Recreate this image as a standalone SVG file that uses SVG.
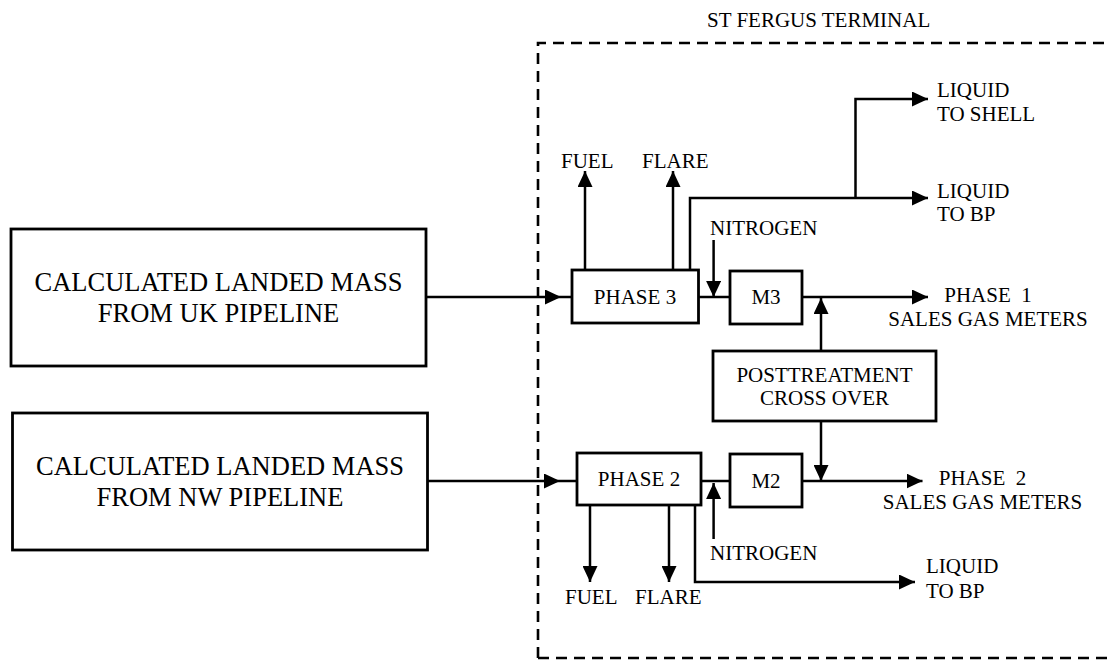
<svg xmlns="http://www.w3.org/2000/svg" width="1108" height="660" viewBox="0 0 1108 660">
<defs>
<style>
.box{fill:#fff;stroke:#000;stroke-width:2.8}
.ln{fill:none;stroke:#000;stroke-width:2.5}
.arr{marker-end:url(#ah)}
.dash{fill:none;stroke:#000;stroke-width:2.6;stroke-dasharray:11 7}
.t{font-family:"Liberation Serif","Times New Roman",serif;fill:#000}
.big{font-size:26.5px;text-anchor:middle}
.lbl{font-size:21px}
.mid{text-anchor:middle}
</style>
<marker id="ah" markerUnits="userSpaceOnUse" markerWidth="16" markerHeight="15" refX="16" refY="7.5" orient="auto">
<path d="M0,0 L16,7.5 L0,15 z" fill="#000"/>
</marker>
</defs>
<rect width="1108" height="660" fill="#fff"/>

<g id="terminal" class="t">
<path class="dash" d="M538,658 V43 H1108"/>
<path class="dash" d="M538,658 H1108"/>
<text class="lbl" x="707" y="27">ST FERGUS TERMINAL</text>
</g>

<g id="connectors">
<path class="ln arr" d="M426,297 H561"/>
<path class="ln" d="M561,297 H572"/>
<path class="ln arr" d="M427,481 H560"/>
<path class="ln" d="M560,481 H577"/>
<path class="ln arr" d="M585,270 V171"/>
<path class="ln arr" d="M673,270 V171"/>
<path class="ln arr" d="M690,270 V198 H928"/>
<path class="ln arr" d="M855.5,198 V99 H928"/>
<path class="ln" d="M698.5,297 H730"/>
<path class="ln arr" d="M713.6,240 V297"/>
<path class="ln arr" d="M802,297 H928"/>
<path class="ln arr" d="M821,351 V298"/>
<path class="ln arr" d="M821,421 V481"/>
<path class="ln" d="M701,481 H730"/>
<path class="ln arr" d="M713.6,539 V483"/>
<path class="ln arr" d="M802,481 H922.5"/>
<path class="ln arr" d="M590,505 V582"/>
<path class="ln arr" d="M669,505 V582"/>
<path class="ln arr" d="M695,505 V582 H915"/>
</g>

<g id="uk-pipeline" class="t">
<rect class="box" x="11" y="229" width="415" height="137"/>
<text class="big" x="218.5" y="291">CALCULATED LANDED MASS</text>
<text class="big" x="218.5" y="322">FROM UK PIPELINE</text>
</g>

<g id="nw-pipeline" class="t">
<rect class="box" x="12.5" y="413" width="415" height="137"/>
<text class="big" x="220" y="475">CALCULATED LANDED MASS</text>
<text class="big" x="220" y="506">FROM NW PIPELINE</text>
</g>

<g id="phase3" class="t">
<rect class="box" x="572" y="270" width="126.5" height="53"/>
<text class="lbl mid" x="635" y="304">PHASE 3</text>
</g>

<g id="m3" class="t">
<rect class="box" x="730" y="271" width="72" height="53"/>
<text class="lbl mid" x="766" y="304">M3</text>
</g>

<g id="phase2" class="t">
<rect class="box" x="577" y="453" width="124" height="52"/>
<text class="lbl mid" x="639" y="486">PHASE 2</text>
</g>

<g id="m2" class="t">
<rect class="box" x="730" y="454" width="72" height="53"/>
<text class="lbl mid" x="766" y="488">M2</text>
</g>

<g id="posttreatment" class="t">
<rect class="box" x="713" y="351" width="223" height="70"/>
<text class="lbl mid" x="824.5" y="382">POSTTREATMENT</text>
<text class="lbl mid" x="824.5" y="405">CROSS OVER</text>
</g>

<g id="labels" class="t">
<text class="lbl" x="561" y="168">FUEL</text>
<text class="lbl" x="642" y="168">FLARE</text>
<text class="lbl" x="937" y="97">LIQUID</text>
<text class="lbl" x="937" y="121">TO SHELL</text>
<text class="lbl" x="937" y="198">LIQUID</text>
<text class="lbl" x="937" y="221">TO BP</text>
<text class="lbl" x="710" y="235">NITROGEN</text>
<text class="lbl mid" x="988" y="302" xml:space="preserve">PHASE  1</text>
<text class="lbl mid" x="988" y="326">SALES GAS METERS</text>
<text class="lbl mid" x="982.5" y="485" xml:space="preserve">PHASE  2</text>
<text class="lbl mid" x="982.5" y="509">SALES GAS METERS</text>
<text class="lbl" x="710" y="560">NITROGEN</text>
<text class="lbl" x="565" y="604">FUEL</text>
<text class="lbl" x="635" y="604">FLARE</text>
<text class="lbl" x="926" y="573">LIQUID</text>
<text class="lbl" x="926" y="598">TO BP</text>
</g>
</svg>
